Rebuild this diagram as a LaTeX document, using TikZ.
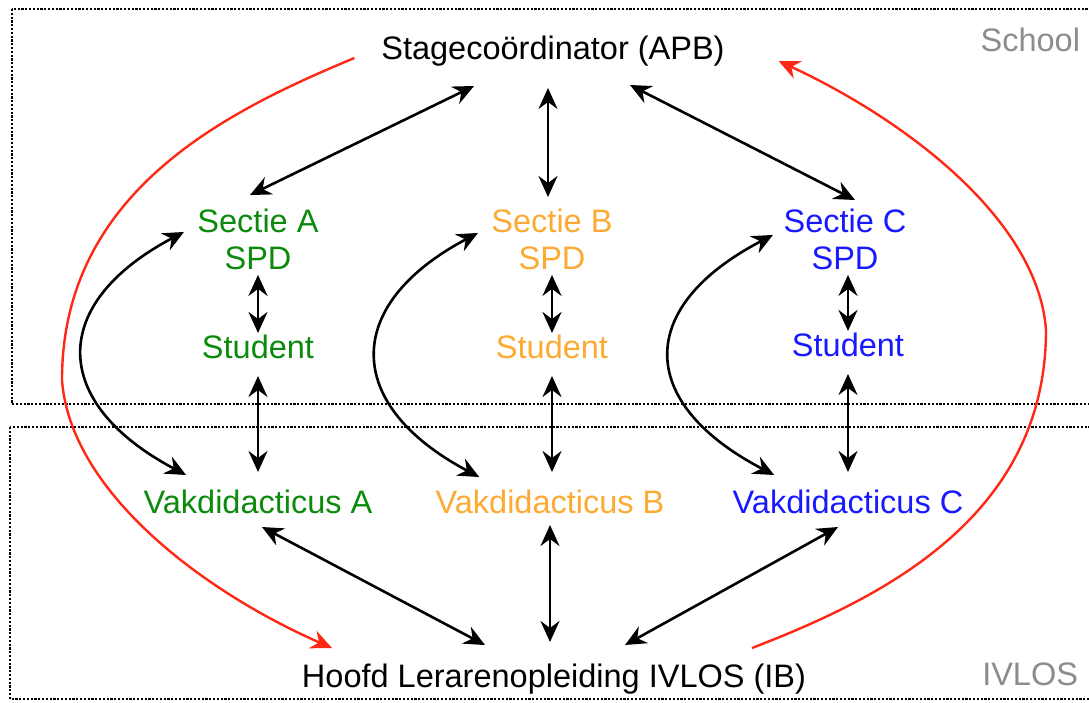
\documentclass[tikz,border=0pt]{standalone}
\usepackage{fontspec}
\setmainfont{Liberation Sans}
\usepackage{xcolor}
\usepackage{tikz}
\usetikzlibrary{positioning, arrows.meta}

\definecolor{groen}{RGB}{12,138,12}
\definecolor{oranje}{RGB}{252,170,50}
\definecolor{blauw}{RGB}{25,25,255}
\definecolor{grijs}{RGB}{140,140,140}
\definecolor{rood}{RGB}{255,40,20}
\newcommand{\groot}{\fontsize{32.5}{37}\selectfont}

\begin{document}
\begin{tikzpicture}[x=1pt,y=-1pt]
					\tikzstyle{tekst}=[inner sep=0pt, outer sep=0pt, font=\groot, text height=24pt, text depth=7pt]
					\tikzstyle{sectie}=[inner sep=0pt, outer sep=0pt, font=\groot, align=center]
					\tikzstyle{pijl}=[line width=2.6pt, {Stealth[length=21pt,width=19pt,inset=7pt]}-{Stealth[length=21pt,width=19pt,inset=7pt]}]
					\tikzstyle{terug}=[line width=2.4pt, draw=rood, -{Stealth[length=21pt,width=19pt,inset=7pt]}]
					\tikzstyle{kader}=[draw, line width=2.6pt, dash pattern=on 2.2pt off 1.6pt]
					\useasboundingbox (0,0) rectangle (1089,702);
					\clip (0,0) rectangle (1089,702);
					% de twee gebieden
					\path[kader] (12,9) rectangle (1120,404);
					\path[kader] (10,427) rectangle (1120,699);
					\node[tekst, text=grijs, anchor=base east](school) at (1080,51) {School};
					\node[tekst, text=grijs, anchor=base east](ivlos) at (1078,685) {IVLOS};
					% personen
					\node[tekst, anchor=base](apb) at (553,59) {Stagecoördinator (APB)};
					\node[sectie, text=groen, anchor=north](sa) at (258,209) {Sectie A\\SPD};
					\node[sectie, text=oranje, anchor=north](sb) at (552,209) {Sectie B\\SPD};
					\node[sectie, text=blauw, anchor=north](sc) at (845,209) {Sectie C\\SPD};
					\node[tekst, text=groen, anchor=base](sta) at (258,358) {Student};
					\node[tekst, text=oranje, anchor=base](stb) at (552,358) {Student};
					\node[tekst, text=blauw, anchor=base](stc) at (848,356) {Student};
					\node[tekst, text=groen, anchor=base](va) at (258,513) {Vakdidacticus A};
					\node[tekst, text=oranje, anchor=base](vb) at (550,513) {Vakdidacticus B};
					\node[tekst, text=blauw, anchor=base](vc) at (848,513) {Vakdidacticus C};
					\node[tekst, anchor=base](ib) at (554,687) {Hoofd Lerarenopleiding IVLOS (IB)};
					% verbindingen
					\path[pijl]
						([shift={(-79,20)}]apb.south) edge ([shift={(-8,-14)}]sa.north)
						([shift={(-5,22)}]apb.south) edge ([shift={(-4,-12)}]sb.north)
						([shift={(77,19)}]apb.south) edge ([shift={(10,-9)}]sc.north)
						(sa) edge[shorten <=5pt, shorten >=1pt] (sta)
						(sb) edge[shorten <=5pt, shorten >=1pt] (stb)
						(sc.south -| stc.north) edge[shorten <=5pt, shorten >=1pt] (stc.north)
						(sta) edge[shorten <=11pt, shorten >=17pt] (va)
						(stb.south) edge[shorten <=11pt, shorten >=17pt] (stb.south |- vb.north)
						(stc) edge[shorten <=11pt, shorten >=17pt] (vc)
						([shift={(4,7)}]va.south) edge ([shift={(-69,-18)}]ib.north)
						([shift={(0,5)}]vb.south) edge ([shift={(-4,-21)}]ib.north)
						([shift={(-10,7)}]vc.south) edge ([shift={(71,-18)}]ib.north);
					\draw[pijl] ([shift={(-13.5,-7.5)}]sa.west) .. controls +(-136,72) and +(-136,-72) .. ([shift={(42.5,-14)}]va.north west);
					\draw[pijl] ([shift={(-13.5,-6.5)}]sb.west) .. controls +(-136,72) and +(-136,-72) .. ([shift={(43.6,-12)}]vb.north west);
					\draw[pijl] ([shift={(-10.6,-4.5)}]sc.west) .. controls +(-138,72) and +(-138,-72) .. ([shift={(41.5,-14)}]vc.north west);
					% rode lijnen
					\draw[terug] ([shift={(-27,7.5)}]apb.west) .. controls (230,110) and (62,190) .. (62,380) .. controls (70,490) and (200,590) .. ([shift={(30,-30.5)}]ib.west);
					\draw[terug] ([shift={(-54,-30.5)}]ib.east) .. controls (876,600) and (1046,520) .. (1046,330) .. controls (1038,220) and (906,120) .. ([shift={(54,10.5)}]apb.east);
				\end{tikzpicture}
\end{document}
